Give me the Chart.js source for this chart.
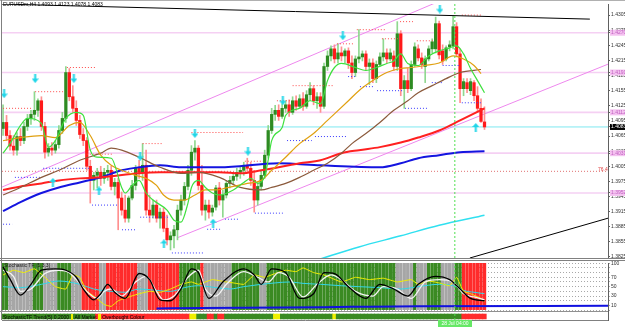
<!DOCTYPE html>
<html><head><meta charset="utf-8">
<script src="https://cdn.jsdelivr.net/npm/chart.js@4.4.0/dist/chart.umd.min.js"></script>
<style>
html,body{margin:0;padding:0;background:#fff;}
#wrap{position:relative;width:625px;height:327px;overflow:hidden;background:#fff;font-family:'Liberation Sans',Arial,sans-serif;}
canvas{position:absolute;left:0;}
#c1{top:0;}
#c2{top:259px;}
.ln{position:absolute;z-index:5;}
.txt{position:absolute;white-space:nowrap;font-size:5px;line-height:6px;z-index:6;}
</style></head><body>
<div id="wrap">
<canvas id="c2" width="625" height="68"></canvas>
<canvas id="c1" width="625" height="262"></canvas>
<div class="ln" style="left:0;top:0;width:625px;height:1px;background:#b0b0b0"></div>
<div class="ln" style="left:1px;top:0;width:1px;height:320px;background:#808080"></div>
<div class="ln" style="left:0;top:258px;width:625px;height:1px;background:#808080"></div>
<div class="ln" style="left:0;top:260px;width:625px;height:1px;background:#808080"></div>
<div class="ln" style="left:0;top:311px;width:608px;height:1px;background:#909090"></div>
<div class="txt" style="left:3px;top:1px;color:#000">EURUSDm,H4 1.4093 1.4123 1.4078 1.4083</div>
<div class="txt" style="left:598px;top:166px;color:#e04040">76.4</div>
<div class="txt" style="left:4px;top:262px;color:#202020">Stochastic TF (5,3,3)</div>
<div class="txt" style="left:3px;top:313.5px;color:#000">StochasticTF Trend(5) 0.2000 <span style="background:#f0f000">&nbsp;&nbsp;</span> All Market <span style="background:#f0f000">&nbsp;&nbsp;</span> Overbought Colour</div>
<div class="txt" style="left:438px;top:320px;width:34px;height:7px;background:#66e866;color:#fff;text-align:center;line-height:7px">28 Jul 04:00</div>
</div>
<script>
// ---------- DATA ----------
const xTickLabels = ["26 Jun 2009","29 Jun 20:00","1 Jul 04:00","2 Jul 12:00","3 Jul 20:00","7 Jul 04:00","8 Jul 12:00","9 Jul 20:00","13 Jul 04:00","14 Jul 12:00","15 Jul 20:00","17 Jul 04:00","20 Jul 12:00","21 Jul 20:00","23 Jul 04:00","24 Jul 12:00","27 Jul 20:00","29 Jul 04:00"];
const xTickStep = 8;
const priceTicks = [1.4305,1.4275,1.4245,1.4215,1.4185,1.4155,1.4125,1.4095,1.4065,1.4035,1.4005,1.3975,1.3945,1.3915,1.3885,1.3855,1.3825];
const pinkLevels = [1.4270,1.4191,1.4112,1.4031,1.3952];
const currentPrice = 1.4083;
const fibLevel = 1.3995;

const openP = [1.4080,1.4092,1.4066,1.4045,1.4037,1.4064,1.4056,1.4084,1.4100,1.4108,1.4116,1.4135,1.4084,1.4033,1.4041,1.4037,1.4048,1.4076,1.4100,1.4191,
1.4143,1.4120,1.4096,1.4068,1.4056,1.4005,1.3977,1.3987,1.3993,1.3981,1.3993,1.3997,1.3965,1.3973,1.3942,1.3918,1.3902,1.3942,1.3967,1.4001,
1.3993,1.4007,1.3918,1.3908,1.3928,1.3902,1.3914,1.3882,1.3859,1.3867,1.3879,1.3918,1.3938,1.3965,1.3997,1.4033,1.4041,1.3967,1.3918,1.3928,
1.3914,1.3924,1.3962,1.3938,1.3948,1.3971,1.3977,1.3985,1.3993,1.3997,1.4007,1.4001,1.3977,1.3938,1.3965,1.3987,1.4027,1.4076,1.4108,1.4116,
1.4104,1.4120,1.4127,1.4112,1.4135,1.4124,1.4139,1.4124,1.4147,1.4159,1.4135,1.4143,1.4124,1.4203,1.4224,1.4238,1.4218,1.4230,1.4224,1.4234,
1.4210,1.4191,1.4218,1.4222,1.4228,1.4203,1.4210,1.4179,1.4207,1.4222,1.4230,1.4218,1.4224,1.4203,1.4268,1.4159,1.4175,1.4159,1.4207,1.4238,
1.4220,1.4203,1.4218,1.4238,1.4238,1.4288,1.4234,1.4218,1.4242,1.4244,1.4282,1.4228,1.4159,1.4171,1.4155,1.4171,1.4145,1.4120,1.4093];
const highP = [1.4127,1.4106,1.4076,1.4066,1.4072,1.4080,1.4092,1.4108,1.4116,1.4153,1.4139,1.4143,1.4092,1.4050,1.4052,1.4056,1.4086,1.4112,1.4203,1.4199,
1.4165,1.4135,1.4106,1.4080,1.4062,1.4017,1.3993,1.4001,1.4005,1.4001,1.4007,1.4005,1.3981,1.3981,1.3954,1.3948,1.3946,1.3977,1.4007,1.4017,
1.4050,1.4037,1.3948,1.3938,1.3938,1.3922,1.3922,1.3908,1.3875,1.3888,1.3928,1.3948,1.3973,1.4007,1.4046,1.4056,1.4046,1.4007,1.3938,1.3938,
1.3928,1.3967,1.3973,1.3958,1.3977,1.3985,1.3993,1.4001,1.4005,1.4013,1.4021,1.4013,1.3997,1.3973,1.3997,1.4037,1.4086,1.4120,1.4126,1.4127,
1.4129,1.4135,1.4137,1.4143,1.4145,1.4147,1.4151,1.4155,1.4171,1.4165,1.4151,1.4151,1.4210,1.4234,1.4244,1.4246,1.4248,1.4242,1.4238,1.4240,
1.4224,1.4224,1.4276,1.4234,1.4234,1.4218,1.4218,1.4214,1.4230,1.4258,1.4238,1.4238,1.4234,1.4292,1.4274,1.4185,1.4199,1.4214,1.4250,1.4246,
1.4230,1.4224,1.4244,1.4258,1.4301,1.4293,1.4246,1.4244,1.4254,1.4303,1.4290,1.4238,1.4179,1.4179,1.4179,1.4175,1.4163,1.4139,1.4123];
const lowP = [1.4066,1.4056,1.4037,1.4027,1.4027,1.4046,1.4050,1.4076,1.4088,1.4096,1.4104,1.4076,1.4021,1.4025,1.4027,1.4031,1.4041,1.4070,1.4092,1.4135,
1.4112,1.4086,1.4060,1.4046,1.3997,1.3932,1.3958,1.3962,1.3967,1.3971,1.3977,1.3958,1.3948,1.3879,1.3908,1.3894,1.3894,1.3938,1.3958,1.3981,
1.3977,1.3908,1.3894,1.3902,1.3894,1.3882,1.3875,1.3849,1.3839,1.3843,1.3859,1.3908,1.3928,1.3958,1.3987,1.4017,1.3958,1.3908,1.3898,1.3902,
1.3906,1.3918,1.3928,1.3904,1.3942,1.3962,1.3969,1.3977,1.3981,1.3987,1.3993,1.3967,1.3914,1.3928,1.3958,1.3981,1.4021,1.4070,1.4096,1.4096,
1.4100,1.4112,1.4104,1.4108,1.4116,1.4120,1.4116,1.4120,1.4135,1.4127,1.4120,1.4112,1.4120,1.4195,1.4214,1.4210,1.4210,1.4214,1.4210,1.4199,
1.4179,1.4183,1.4210,1.4214,1.4195,1.4167,1.4171,1.4171,1.4203,1.4214,1.4210,1.4214,1.4195,1.4195,1.4145,1.4120,1.4151,1.4155,1.4203,1.4214,
1.4199,1.4171,1.4214,1.4230,1.4230,1.4218,1.4207,1.4214,1.4234,1.4238,1.4222,1.4131,1.4145,1.4151,1.4147,1.4135,1.4112,1.4092,1.4078];
const closeP = [1.4092,1.4066,1.4045,1.4037,1.4064,1.4056,1.4084,1.4100,1.4108,1.4116,1.4135,1.4084,1.4033,1.4041,1.4037,1.4048,1.4076,1.4100,1.4191,1.4143,
1.4120,1.4096,1.4068,1.4056,1.4005,1.3977,1.3987,1.3993,1.3981,1.3993,1.3997,1.3965,1.3973,1.3942,1.3918,1.3902,1.3942,1.3967,1.4001,1.3993,
1.4007,1.3918,1.3908,1.3928,1.3902,1.3914,1.3882,1.3859,1.3867,1.3879,1.3918,1.3938,1.3965,1.3997,1.4033,1.4041,1.3967,1.3918,1.3928,1.3914,
1.3922,1.3962,1.3938,1.3948,1.3971,1.3977,1.3985,1.3993,1.3997,1.4007,1.4001,1.3977,1.3938,1.3965,1.3987,1.4027,1.4076,1.4108,1.4116,1.4104,
1.4120,1.4127,1.4112,1.4135,1.4124,1.4139,1.4124,1.4147,1.4159,1.4135,1.4143,1.4124,1.4203,1.4224,1.4238,1.4218,1.4230,1.4224,1.4234,1.4210,
1.4191,1.4218,1.4222,1.4228,1.4203,1.4210,1.4179,1.4207,1.4222,1.4230,1.4218,1.4230,1.4203,1.4268,1.4159,1.4175,1.4159,1.4207,1.4242,1.4220,
1.4207,1.4218,1.4238,1.4252,1.4288,1.4226,1.4214,1.4240,1.4246,1.4282,1.4228,1.4159,1.4173,1.4159,1.4173,1.4145,1.4120,1.4094,1.4083];

const maGreen = [[0,1.4031],[2,1.4050],[5,1.4086],[7,1.4100],[11,1.4090],[13,1.4043],[15,1.4056],[18,1.4100],[21,1.4112],[23,1.4106],[25,1.4037],[27,1.4023],[31,1.4021],[34,1.3963],[35,1.3952],[37,1.3967],[39,1.3977],[41,1.3952],[43,1.3938],[47,1.3918],[49,1.3898],[51,1.3894],[53,1.3932],[54,1.3963],[56,1.3977],[58,1.3963],[60,1.3952],[62,1.3948],[66,1.3958],[69,1.3973],[71,1.3981],[73,1.3971],[75,1.3985],[76,1.4017],[77,1.4056],[80,1.4082],[81,1.4106],[85,1.4120],[88,1.4135],[91,1.4129],[93,1.4175],[95,1.4201],[97,1.4209],[101,1.4201],[104,1.4195],[107,1.4201],[110,1.4209],[112,1.4214],[114,1.4228],[116,1.4209],[119,1.4205],[122,1.4224],[125,1.4234],[128,1.4240],[130,1.4244],[132,1.4228],[134,1.4199],[136,1.4175],[138,1.4151]];
const maOrange = [[0,1.4056],[5,1.4062],[11,1.4066],[15,1.4062],[19,1.4086],[22,1.4092],[25,1.4066],[28,1.4027],[31,1.4007],[34,1.3997],[38,1.3987],[41,1.3981],[44,1.3967],[46,1.3948],[49,1.3938],[52,1.3938],[55,1.3948],[58,1.3958],[61,1.3958],[64,1.3962],[70,1.3971],[74,1.3977],[77,1.3997],[81,1.4023],[85,1.4050],[89,1.4070],[93,1.4096],[99,1.4135],[102,1.4155],[106,1.4175],[110,1.4191],[114,1.4199],[117,1.4201],[121,1.4205],[125,1.4210],[129,1.4224],[132,1.4218],[135,1.4205],[137,1.4189]];
const maBrown = [[0,1.3948],[5,1.3963],[11,1.3983],[16,1.3997],[22,1.4017],[28,1.4031],[31,1.4041],[34,1.4037],[39,1.4023],[45,1.4003],[51,1.3991],[56,1.3993],[62,1.3983],[68,1.3963],[74,1.3958],[77,1.3963],[81,1.3971],[85,1.3983],[89,1.3997],[93,1.4011],[97,1.4031],[100,1.4050],[104,1.4070],[108,1.4092],[112,1.4116],[116,1.4135],[119,1.4151],[123,1.4165],[127,1.4179],[131,1.4191],[137,1.4197]];
const maRed = [[0,1.3958],[5,1.3965],[11,1.3971],[16,1.3977],[22,1.3981],[28,1.3983],[39,1.3991],[45,1.3993],[51,1.3993],[62,1.3993],[68,1.3991],[74,1.3997],[79,1.4003],[85,1.4011],[91,1.4017],[97,1.4031],[102,1.4037],[108,1.4043],[114,1.4052],[119,1.4062],[125,1.4076],[131,1.4096],[138,1.4120]];
const maBlue = [[0,1.3916],[5,1.3934],[11,1.3952],[16,1.3963],[22,1.3973],[28,1.3983],[34,1.3997],[39,1.4003],[45,1.4007],[51,1.4003],[62,1.4003],[79,1.4011],[91,1.4007],[108,1.4003],[114,1.4011],[119,1.4021],[125,1.4027],[131,1.4033],[138,1.4035]];
const maCyan = [[90,1.3819],[102,1.3845],[114,1.3867],[125,1.3888],[138,1.3908]];

const channelUpper = [[-0.9,1.3962],[125.2,1.4333]];
const channelLower = [[49.9,1.3863],[173.9,1.4209]];
const trendTop = [[-0.9,1.4327],[168.2,1.4297]];
const trendLow = [[133.8,1.3823],[173.4,1.3902]];

const resLines = [[0,8.3,1.4120],[9.2,17.2,1.4153],[18.3,26.4,1.4201],[24,31.2,1.4029],[40,45.8,1.4050],[54,68.8,1.4072],[69.3,74.5,1.4015],[78.5,82.2,1.4135],[83,94.6,1.4165],[95.7,100.3,1.4248],[101.4,110,1.4276],[108.6,113.8,1.4258],[113.8,117.5,1.4292],[118.6,123.2,1.4254],[131.5,137.5,1.4305]];
const supLines = [[0,2.6,1.3890],[3.4,11.2,1.3983],[11.5,24.9,1.4001],[25.5,32.7,1.3928],[34.1,38.4,1.3879],[39.3,47.3,1.3904],[48.4,57.3,1.3833],[58.5,62.2,1.3880],[63.6,67.9,1.3900],[72.2,80.2,1.3912],[81.4,88.5,1.4056],[89.4,98.6,1.4064],[98.9,101.4,1.4183],[102.3,106.6,1.4163],[107.2,114.6,1.4155],[115.2,121.5,1.4120],[122.9,125.8,1.4171],[126,131,1.4205],[131.5,137.2,1.4131]];

const downArrows = [[0.3,1.4149],[9.2,1.4179],[20.3,1.4179],[39.3,1.4025],[55,1.4070],[70.2,1.4035],[80.2,1.4135],[97.4,1.4264],[125.2,1.4317]];
const upArrows = [[14.3,1.3973],[27.5,1.3956],[46.1,1.3851],[60.2,1.3892],[135.5,1.4082]];
const markerBar = 129.5;

const oscBgRuns = [['g',2],['s',7],['g',3],['s',4],['g',4],['s',3],['r',5],['s',2],['r',9],['s',3],['r',9],['g',6],['r',1],['s',8],['g',8],['s',2],['g',37],['s',5],['g',1],['s',3],['g',4],['s',4],['g',2],['r',7]];
const colorBarRuns = [['g',27],['r',27],['y',2],['g',3],['r',2],['g',1],['r',2],['g',14],['y',2],['g',15],['y',1],['g',36],['r',7]];

const oscBlack = [[0,92],[2,66],[5,32],[8,55],[11,85],[15,88],[18,85],[21,70],[23,45],[26,22],[28,35],[30,55],[32,38],[35,25],[39,78],[42,65],[45,22],[48,20],[51,45],[54,88],[56,80],[59,25],[63,60],[69,88],[72,75],[74,55],[77,88],[81,80],[85,25],[89,35],[92,80],[95,78],[99,50],[104,25],[108,55],[112,45],[116,30],[119,55],[124,72],[128,65],[131,45],[134,25],[138,20]];
const oscWhite = [[0,85],[3,72],[5,40],[8,45],[12,78],[16,85],[19,80],[21,65],[24,40],[27,25],[29,40],[31,45],[34,30],[38,60],[41,72],[44,40],[46,22],[49,30],[53,70],[56,85],[58,45],[61,30],[64,55],[69,82],[73,70],[76,60],[79,80],[82,70],[86,28],[90,55],[94,75],[97,65],[101,40],[106,30],[109,50],[113,45],[117,25],[121,60],[125,65],[129,60],[132,35],[135,28],[138,22]];
const oscYellow = [[0,75],[3,85],[6,80],[9,88],[12,70],[15,50],[18,45],[20,75],[22,70],[24,40],[26,30],[29,12],[31,8],[33,20],[36,28],[39,35],[42,40],[45,38],[48,45],[51,55],[54,60],[56,55],[60,65],[64,60],[66,58],[69,55],[72,75],[75,70],[78,78],[81,85],[84,82],[86,90],[89,80],[92,75],[97,60],[101,70],[105,65],[109,68],[113,60],[117,65],[119,55],[122,62],[125,58],[128,52],[130,70],[132,40],[134,35],[137,25],[138,18]];
const oscCyan = [[0,50],[5,48],[11,55],[16,62],[22,55],[26,45],[31,40],[35,38],[39,45],[44,42],[48,40],[52,48],[56,52],[61,48],[65,45],[69,50],[74,55],[78,58],[82,60],[86,57],[91,55],[97,52],[102,50],[108,48],[114,45],[119,50],[125,55],[130,50],[132,42],[135,38],[138,35]];
const oscBlue = [[44,3.5],[57,4.5],[80,5.5],[100,7],[119,8.3],[173.4,9.2]];
const oscTicks = [0,10,20,30,40,50,60,70,80,90,100];
const oscTickLabels = {100:'100',70:'70',50:'50',30:'30',10:'10'};

// ---------- CHART ----------
Chart.defaults.font.family = "'Liberation Sans', Arial, sans-serif";
Chart.defaults.font.size = 5;
Chart.defaults.animation = false;

const X_MIN=-0.3, X_MAX=173.4, Y_MIN=1.3823, Y_MAX=1.4327;
const xy = a => a.map(([x,y])=>({x,y}));
const isUp = i => closeP[i] >= openP[i];
const expand = runs => { const o=[]; runs.forEach(([c,n])=>{for(let k=0;k<n;k++)o.push(c);}); return o; };

function arrowImg(up){
  const c=document.createElement('canvas'); c.width=7; c.height=9;
  const g=c.getContext('2d'); g.fillStyle='#1fd6e8';
  if(up){ g.beginPath(); g.moveTo(3.5,0); g.lineTo(7,4); g.lineTo(0,4); g.closePath(); g.fill(); g.fillRect(2.5,4,2,5); }
  else { g.fillRect(2.5,0,2,5); g.beginPath(); g.moveTo(0,4.5); g.lineTo(7,4.5); g.lineTo(3.5,9); g.closePath(); g.fill(); }
  return c;
}
const line = (data, color, w, order, extra) => Object.assign({type:'line', data, borderColor:color, borderWidth:w, pointRadius:0, order, tension:0}, extra||{});

const ds1 = [];
pinkLevels.forEach(v => ds1.push(line([{x:X_MIN,y:v},{x:X_MAX,y:v}], '#f5d0f3', 1.6, 100)));
ds1.push(line([{x:X_MIN,y:currentPrice},{x:X_MAX,y:currentPrice}], '#7ee8f0', 1, 99));
ds1.push(line([{x:X_MIN,y:fibLevel},{x:X_MAX,y:fibLevel}], '#e07070', 1, 98, {borderDash:[1,2]}));
ds1.push(line(xy(channelUpper), '#ee88ee', 1, 97));
ds1.push(line(xy(channelLower), '#ee88ee', 1, 97));
ds1.push({type:'bar', data: closeP.map((c,i)=>({x:i, y:[lowP[i], highP[i]]})), backgroundColor: ctx => isUp(ctx.dataIndex) ? '#8fd88f' : '#ff9090', barThickness:1, grouped:false, order:90});
ds1.push({type:'bar', data: closeP.map((c,i)=>({x:i, y:[openP[i], c]})), backgroundColor: ctx => isUp(ctx.dataIndex) ? '#2e8b22' : '#ff1a1a', barThickness:2.6, minBarLength:1, grouped:false, order:89});
resLines.forEach(([a,b,v]) => ds1.push(line([{x:a,y:v},{x:b,y:v}], '#ff4a4a', 1, 85, {borderDash:[1,2]})));
supLines.forEach(([a,b,v]) => ds1.push(line([{x:a,y:v},{x:b,y:v}], '#3a3aff', 1, 85, {borderDash:[1,2]})));
const maOpts = {tension:0.35, cubicInterpolationMode:'monotone'};
ds1.push(line(xy(maBlue), '#1414e0', 2, 80, maOpts));
ds1.push(line(xy(maRed), '#ff2020', 2, 79, maOpts));
ds1.push(line(xy(maBrown), '#8b5a3c', 1.2, 78, maOpts));
ds1.push(line(xy(maOrange), '#e0a010', 1.2, 77, maOpts));
ds1.push(line(xy(maGreen), '#3fe03f', 1.2, 76, maOpts));
ds1.push(line(xy(maCyan), '#30e0f0', 1.5, 75, maOpts));
ds1.push(line(xy(trendTop), '#000000', 1, 70));
ds1.push(line(xy(trendLow), '#000000', 1, 70));
ds1.push(line([{x:markerBar,y:Y_MIN},{x:markerBar,y:Y_MAX}], '#50e050', 1, 65, {borderDash:[2,2]}));
ds1.push({type:'scatter', data: xy(downArrows), pointStyle: arrowImg(false), pointRadius:4, order:60});
ds1.push({type:'scatter', data: xy(upArrows), pointStyle: arrowImg(true), pointRadius:4, order:60});

const specialSet = new Set(pinkLevels.concat([currentPrice]));
new Chart(document.getElementById('c1'), {
  type:'bar',
  data:{datasets:ds1},
  options:{
    responsive:false,
    layout:{padding:{left:2,top:3,right:0,bottom:4}, autoPadding:false},
    plugins:{legend:{display:false}, tooltip:{enabled:false}},
    scales:{
      x:{type:'linear', min:X_MIN, max:X_MAX, offset:false, display:false},
      y:{type:'linear', position:'right', min:Y_MIN, max:Y_MAX, bounds:'data',
        afterBuildTicks: s => { s.ticks = priceTicks.concat(pinkLevels, [currentPrice]).map(v=>({value:v})); },
        afterFit: s => { s.width = 17; },
        grid:{display:true, drawOnChartArea:false, tickLength:2, color:'#606060'},
        border:{display:true, color:'#606060'},
        ticks:{autoSkip:false, padding:1, font:{size:5},
          callback: v => Number(v).toFixed(4),
          showLabelBackdrop:true,
          backdropPadding:{top:0,bottom:0,left:1,right:2},
          backdropColor: ctx => { const v=ctx.tick&&ctx.tick.value; if(v===currentPrice) return '#000000'; return specialSet.has(v) ? '#f4c2f0' : 'rgba(0,0,0,0)'; },
          color: ctx => { const v=ctx.tick&&ctx.tick.value; if(v===currentPrice) return '#ffffff'; return specialSet.has(v) ? '#c060c0' : '#303030'; }
        }
      }
    }
  }
});

// ---------- OSCILLATOR ----------
const oscBg = expand(oscBgRuns);
const colorBar = expand(colorBarRuns);
const bgCol = {g:'#3a8a22', s:'#a6a6a6', r:'#ff2b2b', y:'#f0f000'};
const ds2 = [];
ds2.push({type:'bar', data: oscBg.map((c,i)=>({x:i, y:[0,100]})), backgroundColor: ctx => bgCol[oscBg[ctx.dataIndex]] || '#a6a6a6', barThickness:2.7, grouped:false, order:100});
ds2.push({type:'bar', data: colorBar.map((c,i)=>({x:i, y:[-18.75,-8.3]})), backgroundColor: ctx => bgCol[colorBar[ctx.dataIndex]] || '#3a8a22', barThickness:3.6, grouped:false, order:99});
const oscOpts = {tension:0.35, cubicInterpolationMode:'monotone'};
ds2.push(line(xy(oscCyan), '#30d8e8', 1, 50, oscOpts));
ds2.push(line(xy(oscYellow), '#f0f000', 1, 49, {tension:0.1}));
ds2.push(line(xy(oscWhite), '#f4f4f4', 1.3, 48, oscOpts));
ds2.push(line(xy(oscBlack), '#000000', 1.3, 47, oscOpts));
ds2.push(line(xy(oscBlue), '#1010e0', 2, 46, oscOpts));
ds2.push(line([{x:markerBar,y:-21},{x:markerBar,y:100.4}], '#50e050', 1, 40, {borderDash:[2,2]}));

new Chart(document.getElementById('c2'), {
  type:'bar',
  data:{datasets:ds2},
  options:{
    responsive:false,
    layout:{padding:{left:2,top:3,right:0,bottom:0}, autoPadding:false},
    plugins:{legend:{display:false}, tooltip:{enabled:false}},
    scales:{
      x:{type:'linear', min:X_MIN, max:X_MAX, offset:false, position:'bottom',
        afterBuildTicks: s => { s.ticks = xTickLabels.map((t,k)=>({value:k*xTickStep})); },
        afterFit: s => { s.height = 7; },
        grid:{display:false},
        border:{display:true, color:'#808080'},
        ticks:{autoSkip:false, maxRotation:0, minRotation:0, align:'start', padding:1, color:'#303030', font:{size:5},
          callback: (v) => xTickLabels[Math.round(v/xTickStep)] || ''}
      },
      y:{type:'linear', position:'right', min:-21, max:100.4, bounds:'data',
        afterBuildTicks: s => { s.ticks = oscTicks.map(v=>({value:v})); },
        afterFit: s => { s.width = 17; },
        grid:{display:true, drawOnChartArea:true, tickLength:2, color:'#a8a8a8'},
        border:{display:true, color:'#606060', dash:[1,2]},
        ticks:{autoSkip:false, padding:1, color:'#303030', font:{size:5},
          callback: v => oscTickLabels[v] || ''}
      }
    }
  }
});
</script>
</body></html>
